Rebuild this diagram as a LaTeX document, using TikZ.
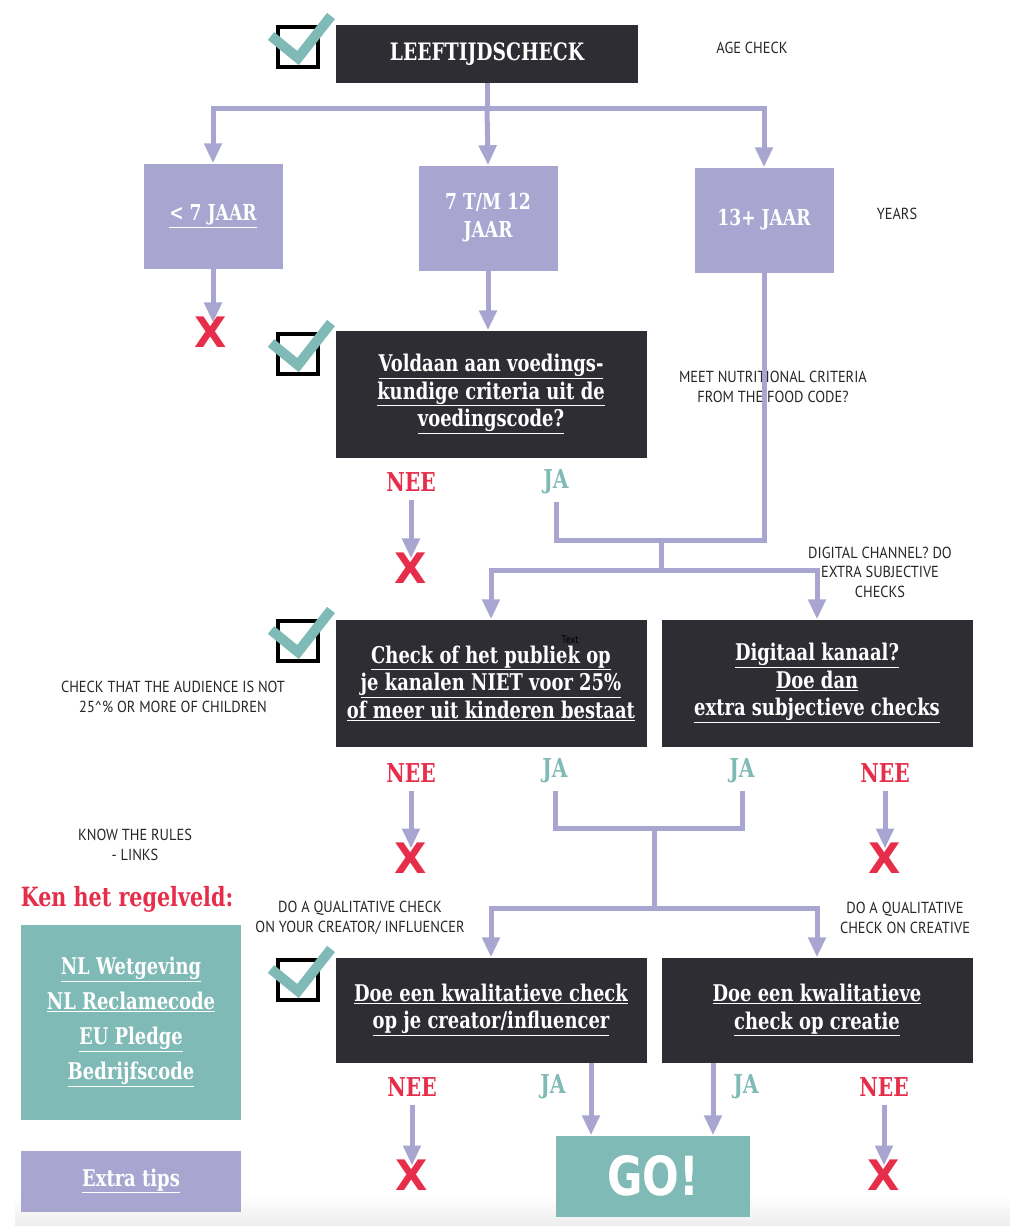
\documentclass[tikz,border=0pt]{standalone}
\usepackage{fontspec}
\setmainfont{DejaVu Serif}
\newfontfamily\slabfont{DejaVu Serif}[FakeStretch=0.78]
\newfontfamily\notefont{PT Sans}[FakeStretch=0.9]
\newfontfamily\gofont{DejaVu Sans}[FakeStretch=0.8]
\newfontfamily\crossfont{DejaVu Sans}
\usetikzlibrary{arrows.meta,positioning}
\definecolor{boxdark}{HTML}{2E2D33}
\definecolor{lilac}{HTML}{A8A6D1}
\definecolor{sea}{HTML}{7FBAB7}
\definecolor{alarm}{HTML}{E62E4A}
\newcommand{\ul}[1]{\underline{#1}}
\tikzset{
  darkbox/.style={fill=boxdark, text=white, align=center, inner sep=0pt,
    font=\slabfont\bfseries\fontsize{23}{27.5}\selectfont,
    minimum width=311pt, minimum height=127pt},
  agebox/.style={fill=lilac, text=white, align=center, inner sep=0pt,
    font=\slabfont\bfseries\fontsize{22}{28}\selectfont,
    minimum width=139pt, minimum height=105pt},
  flow/.style={draw=lilac, line width=5pt},
  flowarrow/.style={flow, -{Triangle[width=17pt,length=20pt]}},
  nee/.style={text=alarm, inner sep=0pt, font=\slabfont\bfseries\fontsize{26}{26}\selectfont},
  ja/.style={text=sea, inner sep=0pt, font=\slabfont\bfseries\fontsize{26}{26}\selectfont},
  cross/.style={text=alarm, inner sep=0pt, font=\crossfont\bfseries\fontsize{42}{42}\selectfont},
  note/.style={align=center, text=black!85, font=\notefont\fontsize{16}{19.5}\selectfont},
  tickbox/.pic={
    \draw[black, line width=3.5pt] (-20,-20) rectangle (20,20);
    \draw[sea, line width=10pt] (-27,-11) -- (0,11) -- (33,-31);
  }
}
\begin{document}
\begin{tikzpicture}[x=1pt, y=-1pt]
  \useasboundingbox (0,0) rectangle (1010,1226);
  \shade[top color=white, bottom color=black!7] (15,1196) rectangle (1010,1226);

  % age check
  \node[darkbox, minimum height=58pt, minimum width=302pt,
        font=\slabfont\bfseries\fontsize{24}{24}\selectfont] (age) at (487,54) {LEEFTIJDSCHECK};
  \pic at (298,47) {tickbox};
  \node[note] (agenote) at (752,48) {AGE CHECK};

  \node[agebox] (young) at (213,216) {\ul{< 7 JAAR}};
  \node[agebox] (mid) at (488,218) {7 T/M 12\\JAAR};
  \node[agebox] (old) at (764,220) {13+ JAAR};
  \node[note] (yearsnote) at (897,214) {YEARS};

  \coordinate (split1) at (487,108);
  \draw[flow] (age.south) -- (split1);
  \draw[flowarrow] (split1) -| (young.north);
  \draw[flowarrow] (split1) -- (mid.north);
  \draw[flowarrow] (split1) -| (old.north);

  \node[cross] (x0) at (211,332) {X};
  \draw[flowarrow] (young.south) -- ([yshift=-6pt]young.south |- x0.north);

  % nutrition
  \node[darkbox] (food) at (491,394) {\ul{Voldaan aan voedings-}\\\ul{kundige criteria uit de}\\\ul{voedingscode?}};
  \pic at (298,354) {tickbox};
  \draw[flowarrow] (mid.south) -- (mid.south |- food.north);
  \node[note] (foodnote) at (773,387) {MEET NUTRITIONAL CRITERIA\\FROM THE FOOD CODE?};

  \node[nee] (nee1) at (411,482) {NEE};
  \node[ja] (ja1) at (556,482) {JA};
  \node[cross] (x1) at (411,568) {X};
  \draw[flowarrow, shorten <=8pt] (nee1.south) -- ([yshift=-6pt]x1.north);

  \coordinate (join1) at (661,540);
  \coordinate (split2) at (661,570);
  \draw[flow, shorten <=8pt] (ja1.south) |- (join1 -| old.south) -- (old.south);
  \draw[flow] (join1) -- (split2);

  % audience and channel
  \node[darkbox] (audience) at (491,683) {\ul{Check of het publiek op}\\\ul{je kanalen NIET voor 25\%}\\\ul{of meer uit kinderen bestaat}};
  \node[darkbox] (digital) at (817,683) {\ul{Digitaal kanaal?}\\\ul{Doe dan}\\\ul{extra subjectieve checks}};
  \pic at (298,641) {tickbox};
  \node[font=\notefont\fontsize{11}{11}\selectfont, text=black] (stray) at (570,640) {Text};
  \draw[flowarrow] (split2) -| (audience.north);
  \draw[flowarrow] (split2) -| (digital.north);
  \node[note] (digitalnote) at (880,572) {DIGITAL CHANNEL? DO\\EXTRA SUBJECTIVE\\CHECKS};
  \node[note] (audiencenote) at (173,697) {CHECK THAT THE AUDIENCE IS NOT\\25\^{}\% OR MORE OF CHILDREN};

  \node[nee] (nee2) at (411,773) {NEE};
  \node[ja] (ja2) at (555,771) {JA};
  \node[ja] (ja3) at (742,771) {JA};
  \node[nee] (nee3) at (885,773) {NEE};
  \node[cross] (x2) at (411,858) {X};
  \node[cross] (x3) at (885,858) {X};
  \draw[flowarrow, shorten <=8pt] (nee2.south) -- ([yshift=-6pt]x2.north);
  \draw[flowarrow, shorten <=8pt] (nee3.south) -- ([yshift=-6pt]x3.north);

  \coordinate (join2) at (654,828);
  \coordinate (split3) at (654,908);
  \draw[flow, shorten <=8pt, shorten >=8pt] (ja2.south) |- (join2 -| ja3.south) -- (ja3.south);
  \draw[flow] (join2) -- (split3);

  % rules
  \node[note] (rulesnote) at (135,845) {KNOW THE RULES\\- LINKS};
  \node[text=alarm, font=\slabfont\bfseries\fontsize{26.5}{26.5}\selectfont] (rules) at (127,899) {Ken het regelveld:};
  \node[fill=sea, text=white, align=center, inner sep=0pt, minimum width=220pt, minimum height=195pt,
        font=\slabfont\bfseries\fontsize{23}{35}\selectfont] (links) at (131,1022)
        {\ul{NL Wetgeving}\\\ul{NL Reclamecode}\\\ul{EU Pledge}\\\ul{Bedrijfscode}};
  \node[fill=lilac, text=white, inner sep=0pt, minimum width=220pt, minimum height=61pt,
        font=\slabfont\bfseries\fontsize{23}{23}\selectfont] (tips) at (131,1181) {\ul{Extra tips}};

  % qualitative checks
  \node[note] (creatornote) at (360,918) {DO A QUALITATIVE CHECK\\ON YOUR CREATOR/ INFLUENCER};
  \node[note] (creativenote) at (905,918) {DO A QUALITATIVE\\CHECK ON CREATIVE};
  \node[darkbox, minimum height=105pt] (creator) at (491,1010) {\ul{Doe een kwalitatieve check}\\\ul{op je creator/influencer}};
  \node[darkbox, minimum height=105pt] (creative) at (817,1010) {\ul{Doe een kwalitatieve}\\\ul{check op creatie}};
  \pic at (298,980) {tickbox};
  \draw[flowarrow] (split3) -| (creator.north);
  \draw[flowarrow] (split3) -| (creative.north);

  \node[fill=sea, text=white, inner sep=0pt, minimum width=194pt, minimum height=81pt,
        font=\gofont\bfseries\fontsize{54}{54}\selectfont] (go) at (653,1176) {GO!};

  \node[nee] (nee4) at (412,1087) {NEE};
  \node[ja] (ja4) at (553,1087) {JA};
  \node[ja] (ja5) at (746,1087) {JA};
  \node[nee] (nee5) at (884,1087) {NEE};
  \node[cross] (x4) at (412,1175) {X};
  \node[cross] (x5) at (884,1175) {X};
  \draw[flowarrow, shorten <=8pt] (nee4.south) -- ([yshift=-6pt]x4.north);
  \draw[flowarrow, shorten <=8pt] (nee5.south) -- ([yshift=-6pt]x5.north);
  \draw[flowarrow] ([xshift=100pt]creator.south) -- ([xshift=100pt]creator.south |- go.north);
  \draw[flowarrow] ([xshift=-104pt]creative.south) -- ([xshift=-104pt]creative.south |- go.north);
\end{tikzpicture}
\end{document}
